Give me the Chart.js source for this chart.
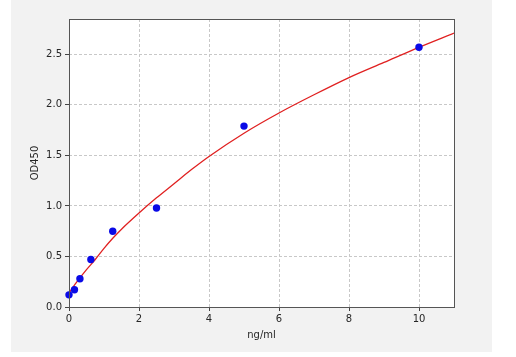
<!DOCTYPE html>
<html>
<head>
<meta charset="utf-8">
<script src="https://cdn.jsdelivr.net/npm/chart.js@4.4.1/dist/chart.umd.min.js"></script>
<style>
  html, body { margin: 0; padding: 0; background: #ffffff; }
  #wrap { width: 516px; height: 357px; }
</style>
</head>
<body>
<div id="wrap"><canvas id="ChartCanvas"></canvas></div>
<script>
// Standard points (concentration ng/ml vs OD450)
const stdConc = [0, 0.156, 0.3125, 0.625, 1.25, 2.5, 5, 10];
const stdOD = [0.12, 0.17, 0.28, 0.47, 0.75, 0.98, 1.79, 2.57];

// Fitted curve
const fitConc = [0, 0.25, 0.5, 0.75, 1, 1.25, 1.5, 2, 2.5, 3, 3.5, 4, 5, 6, 7, 8, 9, 10, 11];
const fitOD = [0.14, 0.26, 0.37, 0.47, 0.58, 0.68, 0.77, 0.93, 1.08, 1.22, 1.36, 1.49, 1.72, 1.92, 2.10, 2.27, 2.42, 2.57, 2.71];

// Tick labels
const xTicks = [0, 2, 4, 6, 8, 10];
const yTicks = [0.0, 0.5, 1.0, 1.5, 2.0, 2.5];

Initialize();

function Initialize()
{
    const font = { family: 'DejaVu Sans', size: 10 };

    // Grey figure background and plot frame
    const framePlugin = {
        id: 'frame',
        beforeDraw(chart) {
            const c = chart.ctx;
            const a = chart.chartArea;
            c.save();
            c.fillStyle = '#f2f2f2';
            c.fillRect(11, 0, 481, 352);
            c.fillStyle = '#ffffff';
            c.fillRect(a.left, a.top, a.right - a.left, a.bottom - a.top);
            c.restore();
        },
        afterDraw(chart) {
            const c = chart.ctx;
            const a = chart.chartArea;
            c.save();
            c.strokeStyle = '#555555';
            c.lineWidth = 1;
            c.strokeRect(a.left + 0.5, a.top + 0.5, a.right - a.left, a.bottom - a.top);
            c.restore();
        }
    };

    const gridOpts = {
        color: '#c8c8c8',
        tickColor: '#444444',
        tickLength: 4,
        tickBorderDash: [],
        lineWidth: 1
    };

    const ctx = document.getElementById('ChartCanvas').getContext('2d');
    new Chart(ctx, {
        type: 'scatter',
        data: {
            datasets: [
                {
                    label: 'fit',
                    type: 'line',
                    data: fitConc.map((x, i) => ({ x: x, y: fitOD[i] })),
                    borderColor: '#e02020',
                    borderWidth: 1.3,
                    pointRadius: 0,
                    fill: false,
                    cubicInterpolationMode: 'monotone',
                    order: 2
                },
                {
                    label: 'standards',
                    data: stdConc.map((x, i) => ({ x: x, y: stdOD[i] })),
                    backgroundColor: '#0a0ae6',
                    borderColor: '#0a0ae6',
                    borderWidth: 0,
                    pointRadius: 3.7,
                    pointHoverRadius: 3.7,
                    clip: false,
                    order: 1
                }
            ]
        },
        options: {
            responsive: true,
            maintainAspectRatio: false,
            animation: false,
            layout: { padding: { left: 29, top: 19, right: 62, bottom: 16 } },
            plugins: {
                legend: { display: false },
                tooltip: { enabled: false }
            },
            scales: {
                x: {
                    type: 'linear',
                    min: 0,
                    max: 11,
                    afterBuildTicks: s => { s.ticks = xTicks.map(v => ({ value: v })); },
                    afterFit: s => { s.height = 34; },
                    ticks: { font: font, color: '#262626', padding: 2, maxRotation: 0 },
                    grid: gridOpts,
                    border: { display: false, dash: [3, 2] },
                    title: { display: true, text: 'ng/ml', font: font, color: '#262626', padding: 0 }
                },
                y: {
                    type: 'linear',
                    min: 0,
                    max: 2.85,
                    afterBuildTicks: s => { s.ticks = yTicks.map(v => ({ value: v })); },
                    afterFit: s => { s.width = 40; },
                    ticks: {
                        font: font,
                        color: '#262626',
                        padding: 3,
                        callback: v => v.toFixed(1)
                    },
                    grid: gridOpts,
                    border: { display: false, dash: [3, 2] },
                    title: { display: true, text: 'OD450', font: font, color: '#262626', padding: 0 }
                }
            }
        },
        plugins: [framePlugin]
    });
}
</script>
</body>
</html>
